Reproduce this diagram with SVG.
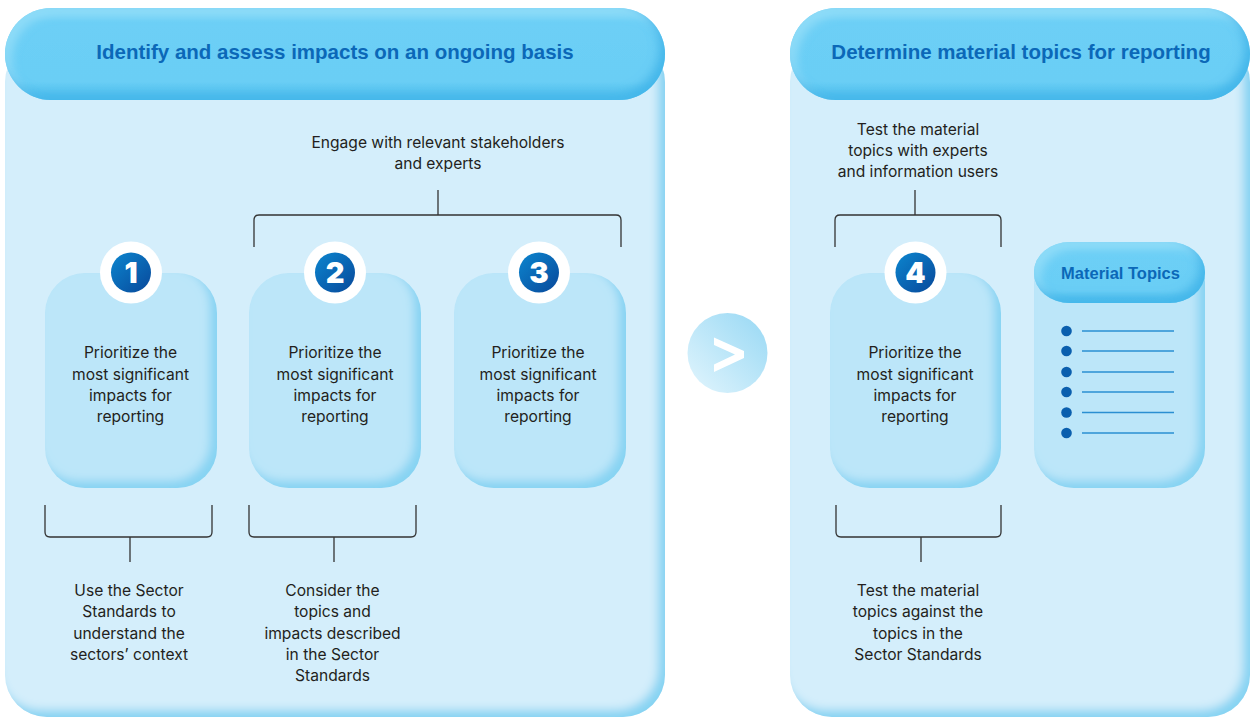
<svg xmlns="http://www.w3.org/2000/svg" width="1251" height="718" viewBox="0 0 1251 718">
<defs>
<style>
.body{font-family:Inter,"Liberation Sans",Arial,sans-serif;font-size:15.6px;fill:#231f20;text-anchor:middle}
.head{font-family:"Liberation Sans",Arial,sans-serif;font-size:20.5px;font-weight:bold;fill:#0b68b8;text-anchor:middle}
.num{font-family:Inter,"Liberation Sans",Arial,sans-serif;font-size:29px;font-weight:900;fill:#fff;text-anchor:middle}
.br{fill:none;stroke:#333;stroke-width:1.3}
.panel{fill:#d4eefb}
.card{fill:#bce6f9}
.line{stroke:#2a8fd2;stroke-width:1.6}
</style>
<linearGradient id="hdr" x1="0" y1="0" x2="0" y2="1">
<stop offset="0" stop-color="#8adbf8"/>
<stop offset="0.15" stop-color="#6dcff6"/>
<stop offset="0.8" stop-color="#6acef5"/>
<stop offset="1" stop-color="#4dbdec"/>
</linearGradient>
<linearGradient id="blue" x1="0" y1="0" x2="1" y2="1">
<stop offset="0" stop-color="#0c86cf"/>
<stop offset="1" stop-color="#08489a"/>
</linearGradient>
<linearGradient id="arr" x1="0" y1="1" x2="1" y2="0">
<stop offset="0" stop-color="#e2f5fd"/>
<stop offset="1" stop-color="#97d8f4"/>
</linearGradient>
<filter id="inset" x="-10%" y="-10%" width="120%" height="120%">
<feOffset in="SourceAlpha" dx="-7" dy="-7" result="off"/>
<feGaussianBlur in="off" stdDeviation="5" result="blur"/>
<feComposite in="SourceAlpha" in2="blur" operator="out" result="inv"/>
<feFlood flood-color="#86d3f2" result="col"/>
<feComposite in="col" in2="inv" operator="in" result="sh"/>
<feMerge><feMergeNode in="SourceGraphic"/><feMergeNode in="sh"/></feMerge>
</filter>
<filter id="insetH" x="-10%" y="-10%" width="120%" height="120%">
<feOffset in="SourceAlpha" dx="-6" dy="-6" result="off"/>
<feGaussianBlur in="off" stdDeviation="5" result="blur"/>
<feComposite in="SourceAlpha" in2="blur" operator="out" result="inv"/>
<feFlood flood-color="#45b7ea" result="col"/>
<feComposite in="col" in2="inv" operator="in" result="sh"/>
<feOffset in="SourceAlpha" dx="6" dy="6" result="off2"/>
<feGaussianBlur in="off2" stdDeviation="5" result="blur2"/>
<feComposite in="SourceAlpha" in2="blur2" operator="out" result="inv2"/>
<feFlood flood-color="#8fdcf8" result="col2"/>
<feComposite in="col2" in2="inv2" operator="in" result="hl"/>
<feMerge><feMergeNode in="SourceGraphic"/><feMergeNode in="hl"/><feMergeNode in="sh"/></feMerge>
</filter>
</defs>

<g id="panel-left">
<rect class="panel" x="5" y="40" width="660" height="677" rx="42" filter="url(#inset)"/>
<rect x="5" y="8" width="660" height="92" rx="46" fill="url(#hdr)" filter="url(#insetH)"/>
<text class="head" x="335" y="59">Identify and assess impacts on an ongoing basis</text>
</g>

<g id="panel-right">
<rect class="panel" x="790" y="40" width="460" height="677" rx="42" filter="url(#inset)"/>
<rect x="790" y="8" width="460" height="92" rx="46" fill="url(#hdr)" filter="url(#insetH)"/>
<text class="head" x="1021" y="59">Determine material topics for reporting</text>
</g>

<g id="connectors">
<path class="br" d="M438 190V215M254 247V220Q254 215 259 215H616Q621 215 621 220V247"/>
<path class="br" d="M915 190V215M835 247V220Q835 215 840 215H996Q1001 215 1001 220V247"/>
<path class="br" d="M45 505V532Q45 537 50 537H207Q212 537 212 532V505M130 537V562"/>
<path class="br" d="M249 505V532Q249 537 254 537H411Q416 537 416 532V505M334 537V562"/>
<path class="br" d="M836 505V532Q836 537 841 537H996Q1001 537 1001 532V505M921 537V562"/>
</g>

<g id="note-engage">
<text class="body" x="438" y="148">Engage with relevant stakeholders</text>
<text class="body" x="438" y="169">and experts</text>
</g>
<g id="note-test-experts">
<text class="body" x="918" y="134.5">Test the material</text>
<text class="body" x="918" y="155.5">topics with experts</text>
<text class="body" x="918" y="176.5">and information users</text>
</g>

<g id="step1">
<rect class="card" x="45" y="273" width="172" height="215" rx="40" filter="url(#inset)"/>
<circle cx="131" cy="272.5" r="31" fill="#fff"/>
<circle cx="131" cy="272.5" r="20" fill="url(#blue)"/>
<text class="num" x="131" y="283">1</text>
<text class="body" x="130.5" y="358">Prioritize the</text>
<text class="body" x="130.5" y="379.5">most significant</text>
<text class="body" x="130.5" y="401">impacts for</text>
<text class="body" x="130.5" y="422">reporting</text>
</g>

<g id="step2">
<rect class="card" x="249" y="273" width="172" height="215" rx="40" filter="url(#inset)"/>
<circle cx="335" cy="272.5" r="31" fill="#fff"/>
<circle cx="335" cy="272.5" r="20" fill="url(#blue)"/>
<text class="num" x="335" y="283">2</text>
<text class="body" x="335" y="358">Prioritize the</text>
<text class="body" x="335" y="379.5">most significant</text>
<text class="body" x="335" y="401">impacts for</text>
<text class="body" x="335" y="422">reporting</text>
</g>

<g id="step3">
<rect class="card" x="454" y="273" width="172" height="215" rx="40" filter="url(#inset)"/>
<circle cx="539" cy="272.5" r="31" fill="#fff"/>
<circle cx="539" cy="272.5" r="20" fill="url(#blue)"/>
<text class="num" x="539" y="283">3</text>
<text class="body" x="538" y="358">Prioritize the</text>
<text class="body" x="538" y="379.5">most significant</text>
<text class="body" x="538" y="401">impacts for</text>
<text class="body" x="538" y="422">reporting</text>
</g>

<g id="step4">
<rect class="card" x="830" y="273" width="171" height="215" rx="40" filter="url(#inset)"/>
<circle cx="915.5" cy="272.5" r="31" fill="#fff"/>
<circle cx="915.5" cy="272.5" r="20" fill="url(#blue)"/>
<text class="num" x="915.5" y="283">4</text>
<text class="body" x="915" y="358">Prioritize the</text>
<text class="body" x="915" y="379.5">most significant</text>
<text class="body" x="915" y="401">impacts for</text>
<text class="body" x="915" y="422">reporting</text>
</g>

<g id="note-sector-context">
<text class="body" x="129" y="596">Use the Sector</text>
<text class="body" x="129" y="617">Standards to</text>
<text class="body" x="129" y="638.5">understand the</text>
<text class="body" x="129" y="659.5">sectors’ context</text>
</g>
<g id="note-consider">
<text class="body" x="332.5" y="596">Consider the</text>
<text class="body" x="332.5" y="617">topics and</text>
<text class="body" x="332.5" y="638.5">impacts described</text>
<text class="body" x="332.5" y="659.5">in the Sector</text>
<text class="body" x="332.5" y="680.5">Standards</text>
</g>
<g id="note-test-sector">
<text class="body" x="918" y="596">Test the material</text>
<text class="body" x="918" y="617">topics against the</text>
<text class="body" x="918" y="638.5">topics in the</text>
<text class="body" x="918" y="659.5">Sector Standards</text>
</g>

<g id="arrow">
<circle cx="727.5" cy="353" r="40" fill="url(#arr)"/>
<polygon points="714,337.5 744,351 744,358 714,372 714,364.5 735,354.5 714,345" fill="#fff"/>
</g>

<g id="material-topics">
<rect class="card" x="1034" y="242" width="171" height="246" rx="40" filter="url(#inset)"/>
<rect x="1034" y="242" width="171" height="61" rx="36" ry="30" fill="url(#hdr)" filter="url(#insetH)"/>
<text x="1120.5" y="279" style="font-family:'Liberation Sans',Arial,sans-serif;font-size:16.5px;font-weight:bold;fill:#0b68b8;text-anchor:middle">Material Topics</text>
<g fill="#0a5fae">
<circle cx="1066.5" cy="331" r="5.3"/>
<circle cx="1066.5" cy="351" r="5.3"/>
<circle cx="1066.5" cy="372" r="5.3"/>
<circle cx="1066.5" cy="392" r="5.3"/>
<circle cx="1066.5" cy="412.5" r="5.3"/>
<circle cx="1066.5" cy="433" r="5.3"/>
</g>
<g class="line">
<line x1="1082" y1="331" x2="1174" y2="331"/>
<line x1="1082" y1="351" x2="1174" y2="351"/>
<line x1="1082" y1="372" x2="1174" y2="372"/>
<line x1="1082" y1="392" x2="1174" y2="392"/>
<line x1="1082" y1="412.5" x2="1174" y2="412.5"/>
<line x1="1082" y1="433" x2="1174" y2="433"/>
</g>
</g>
</svg>
